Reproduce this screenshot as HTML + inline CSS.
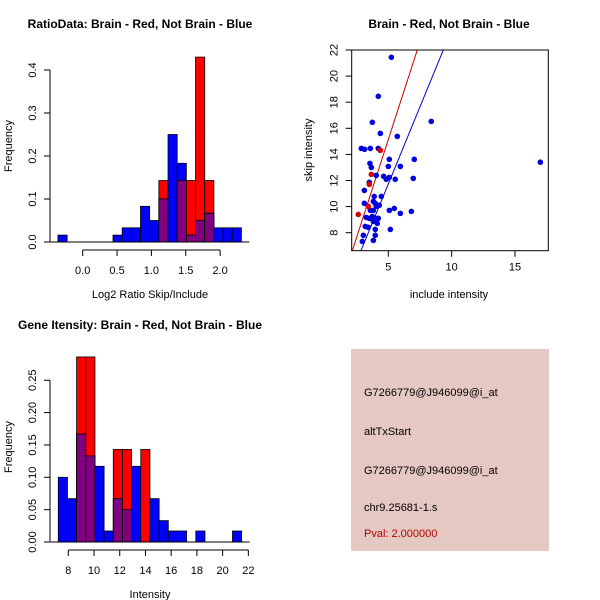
<!DOCTYPE html>
<html><head><meta charset="utf-8"><style>
body{margin:0;background:#fff}
svg{display:block;font-family:"Liberation Sans",sans-serif}
</style></head><body>
<svg id="s" width="600" height="600">
<rect x="0" y="0" width="600" height="600" fill="#fff"/>
<text x="140" y="28" font-size="12" font-weight="bold" text-anchor="middle">RatioData: Brain - Red, Not Brain - Blue</text>
<text x="449" y="28" font-size="12" font-weight="bold" text-anchor="middle">Brain - Red, Not Brain - Blue</text>
<text x="140" y="329" font-size="12" font-weight="bold" text-anchor="middle">Gene Itensity: Brain - Red, Not Brain - Blue</text>
<g id="p1"></g>
<g id="p2"></g>
<g id="p3"></g>
<g>
<rect x="351" y="349" width="198" height="202" fill="#e6c8c2"/>
<text x="364" y="396" font-size="11">G7266779@J946099@i_at</text>
<text x="364" y="435" font-size="11">altTxStart</text>
<text x="364" y="474" font-size="11">G7266779@J946099@i_at</text>
<text x="364" y="511" font-size="11">chr9.25681-1.s</text>
<text x="364" y="537" font-size="11" fill="#b00000">Pval: 2.000000</text>
</g>
</svg>
<script>
// ratio histogram data
const ratioBinStart=-0.36, ratioBinWidth=0.1335;
const ratioBlue=[0.016,0,0,0,0,0,0.016,0.033,0.033,0.083,0.05,0.1,0.25,0.183,0.016,0.05,0.067,0.033,0.033,0.033];
const ratioRed=[0,0,0,0,0,0,0,0,0,0,0,0.143,0,0.143,0.143,0.43,0.143,0,0,0];
const ratioXTicks=["0.0","0.5","1.0","1.5","2.0"];
const ratioYTicks=["0.0","0.1","0.2","0.3","0.4"];
// intensity histogram data
const intBinStart=7.22, intBinWidth=0.713;
const intBlue=[0.1,0.067,0.167,0.133,0.117,0.017,0.067,0.05,0.117,0,0.067,0.033,0.017,0.017,0,0.017,0,0,0,0.017];
const intRed=[0,0,0.286,0.286,0,0,0.143,0.143,0,0.143,0,0,0,0,0,0,0,0,0,0];
const intXTicks=["8","10","12","14","16","18","20","22"];
const intYTicks=["0.00","0.05","0.10","0.15","0.20","0.25"];
// scatter data
const blueX=[5.24,4.21,3.74,4.37,5.71,8.39,2.87,3.13,3.58,4.21,3.55,3.66,5.08,5.0,5.95,7.05,4.05,4.63,4.84,5.08,5.55,6.97,3.5,3.11,3.11,3.89,4.45,3.82,3.97,4.05,4.29,3.58,3.82,5.08,5.47,5.95,6.82,3.26,3.5,3.74,3.97,4.21,3.82,4.13,3.18,3.42,3.97,5.16,3.03,3.97,2.95,3.82,17.0];
const blueY=[21.44,18.45,16.46,15.61,15.38,16.53,14.46,14.39,14.46,14.46,13.31,13.0,13.62,13.08,13.08,13.62,12.39,12.32,12.09,12.24,12.09,12.16,11.86,11.24,10.25,10.78,10.78,10.4,10.25,10.02,10.1,9.71,9.71,9.71,9.86,9.48,9.63,9.17,9.1,9.25,9.1,9.1,8.87,8.71,8.48,8.41,8.25,8.25,7.8,7.8,7.33,7.41,13.4];
const redX=[2.63,3.42,3.66,3.5,4.37];
const redY=[9.4,10.02,12.47,11.7,14.31];
const redFit=[0.14,3.0];
const blueFit=[-0.1,2.366];
const scXTicks=[5,10,15];
const scYTicks=[8,10,12,14,16,18,20,22];

const NS="http://www.w3.org/2000/svg";
function mk(p,t,a){const e=document.createElementNS(NS,t);for(const k in a)e.setAttribute(k,a[k]);p.appendChild(e);return e;}

function hist(g,bs,bw,blue,red,xt,yt,o){
  const X=v=>o.x0+(v-o.xv0)*o.xs, Y=v=>o.y0-v*o.ys;
  for(let i=0;i<blue.length;i++){
    const a=bs+i*bw,b=a+bw;
    if(red[i]>0){const r=mk(g,'rect',{x:X(a),y:Y(red[i]),width:X(b)-X(a),height:red[i]*o.ys,fill:'#ff0000',stroke:'#000','stroke-width':0.8});
      }
    if(blue[i]>0){const r=mk(g,'rect',{x:X(a),y:Y(blue[i]),width:X(b)-X(a),height:blue[i]*o.ys,fill:'#0000ff',stroke:'#000','stroke-width':0.8});
      }
    const m=Math.min(red[i],blue[i]);
    if(m>0){const r=mk(g,'rect',{x:X(a),y:Y(m),width:X(b)-X(a),height:m*o.ys,fill:'#800080',stroke:'#000','stroke-width':0.8});
      }
  }
  mk(g,'line',{x1:X(bs)-8,x2:X(bs+blue.length*bw)+8,y1:o.y0,y2:o.y0,stroke:'#000'});
  const xv=xt.map(Number);
  mk(g,'line',{x1:X(xv[0]),x2:X(xv[xv.length-1]),y1:o.xa,y2:o.xa,stroke:'#000'});
  xt.forEach((t,i)=>{mk(g,'line',{x1:X(xv[i]),x2:X(xv[i]),y1:o.xa,y2:o.xa+6,stroke:'#000'});
    const e=mk(g,'text',{x:X(xv[i]),y:o.xa+24,'font-size':11,'text-anchor':'middle'});e.textContent=t;
    });
  const yv=yt.map(Number);
  mk(g,'line',{x1:o.ya,x2:o.ya,y1:Y(yv[0]),y2:Y(yv[yv.length-1]),stroke:'#000'});
  yt.forEach((t,i)=>{mk(g,'line',{x1:o.ya,x2:o.ya-6,y1:Y(yv[i]),y2:Y(yv[i]),stroke:'#000'});
    const e=mk(g,'text',{x:0,y:0,'font-size':11,'text-anchor':'middle',transform:`translate(${o.ya-14},${Y(yv[i])}) rotate(-90)`});e.textContent=t;
    });
  const xl=mk(g,'text',{x:o.xlx,y:o.xa+o.xld,'font-size':11,'text-anchor':'middle'});xl.textContent=o.xl;
  
  const yl=mk(g,'text',{x:0,y:0,'font-size':11,'text-anchor':'middle',transform:`translate(12,${o.yly}) rotate(-90)`});yl.textContent='Frequency';
  
}
hist(document.getElementById('p1'),ratioBinStart,ratioBinWidth,ratioBlue,ratioRed,ratioXTicks,ratioYTicks,
 {x0:82.7,xv0:0,xs:68.7,y0:242,ys:430,xa:250,ya:50,xl:'Log2 Ratio Skip/Include',xlx:150,xld:48,yly:146});
hist(document.getElementById('p3'),intBinStart,intBinWidth,intBlue,intRed,intXTicks,intYTicks,
 {x0:68.3,xv0:8,xs:12.86,y0:542,ys:647,xa:550,ya:50,xl:'Intensity',xlx:150,xld:48,yly:447});

// scatter
(function(){
  const g=document.getElementById('p2');
  const L=351.7,R=548.3,T=50,B=250.7;
  const X=v=>388.3+(v-5)*12.67, Y=v=>50+(22-v)*13.05;
  mk(g,'clipPath',{id:'cp'});
  mk(document.getElementById('cp'),'rect',{x:L,y:T,width:R-L,height:B-T});
  const cl=mk(g,'g',{'clip-path':'url(#cp)'});
  [[redFit,'#cc0000'],[blueFit,'#0000cc']].forEach(([f,c])=>{
    const l=mk(cl,'line',{x1:X(0),y1:Y(f[0]),x2:X(20),y2:Y(f[0]+f[1]*20),stroke:c,'stroke-width':1});
    });
  blueX.forEach((v,i)=>{const c=mk(cl,'circle',{cx:X(v),cy:Y(blueY[i]),r:2.8,fill:'#0000dd'});
    });
  redX.forEach((v,i)=>{const c=mk(cl,'circle',{cx:X(v),cy:Y(redY[i]),r:2.8,fill:'#dd0000'});
    });
  mk(g,'rect',{x:L,y:T,width:R-L,height:B-T,fill:'none',stroke:'#000'});
  scXTicks.forEach(t=>{mk(g,'line',{x1:X(t),x2:X(t),y1:B,y2:B+6,stroke:'#000'});
    const e=mk(g,'text',{x:X(t),y:B+20,'font-size':11,'text-anchor':'middle'});e.textContent=t;
    });
  scYTicks.forEach(t=>{mk(g,'line',{x1:L,x2:L-6,y1:Y(t),y2:Y(t),stroke:'#000'});
    const e=mk(g,'text',{x:0,y:0,'font-size':11,'text-anchor':'middle',transform:`translate(${L-14},${Y(t)}) rotate(-90)`});e.textContent=t;
    });
  const xl=mk(g,'text',{x:449,y:298,'font-size':11,'text-anchor':'middle'});xl.textContent='include intensity';
  
  const yl=mk(g,'text',{x:0,y:0,'font-size':11,'text-anchor':'middle',transform:'translate(312,150) rotate(-90)'});yl.textContent='skip intensity';
  
})();
</script>
</body></html>
